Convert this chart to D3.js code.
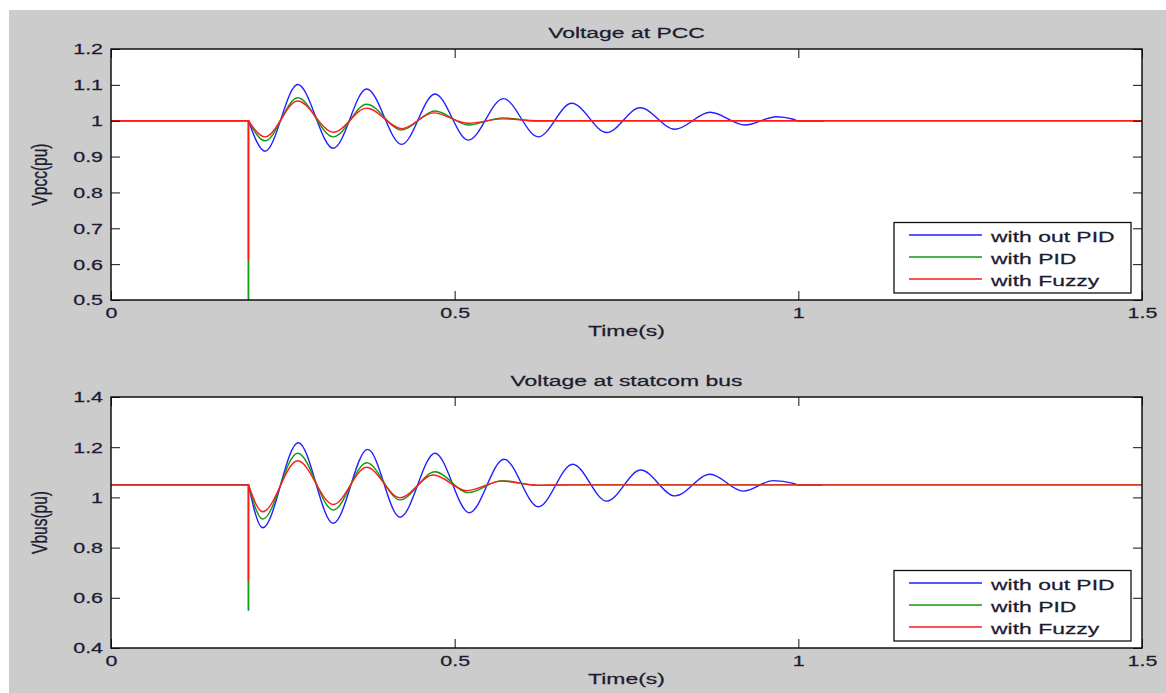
<!DOCTYPE html>
<html><head><meta charset="utf-8">
<script src="https://cdn.jsdelivr.net/npm/d3@7"></script>
<style>
body{margin:0;background:#fff;}
svg{display:block;}
text{font-family:"Liberation Sans",Arial,sans-serif;fill:#1c1c30;stroke:#1c1c30;stroke-width:0.25;}
</style>
</head><body><svg id="c" width="1166" height="693"></svg>
<script>
// ---------------- data ----------------
const timeTicks = [0, 0.5, 1, 1.5];
const timeTickLabels = ["0", "0.5", "1", "1.5"];
const pccTicks = [0.5, 0.6, 0.7, 0.8, 0.9, 1.0, 1.1, 1.2];
const pccTickLabels = ["0.5", "0.6", "0.7", "0.8", "0.9", "1", "1.1", "1.2"];
const busTicks = [0.4, 0.6, 0.8, 1.0, 1.2, 1.4];
const busTickLabels = ["0.4", "0.6", "0.8", "1", "1.2", "1.4"];
const seriesNames = ["with out PID", "with PID", "with Fuzzy"];

const faultTime = 0.2;
const pccPre = 1.0;
const busPre = 1.05;
// lowest value of the sag at the fault instant (blue, green, red)
const pccDip = [0.5, 0.5, 0.61];
const busDip = [0.549, 0.549, 0.664];

// Voltage at PCC after the fault (extrema)
const pccBlueT = [0.2, 0.2241, 0.2716, 0.3234, 0.372, 0.4229, 0.4714, 0.5198, 0.5708, 0.6217, 0.6703, 0.7212, 0.7697, 0.8206, 0.8715, 0.9224, 0.9685, 0.9927, 1.001, 1.0374];
const pccBlueV = [1.0, 0.915, 1.101, 0.923, 1.0885, 0.934, 1.0745, 0.946, 1.0615, 0.955, 1.0486, 0.967, 1.036, 0.976, 1.0235, 0.988, 1.011, 1.004, 0.999, 0.999];
const pccGreenT = [0.2, 0.2241, 0.2716, 0.3234, 0.372, 0.4229, 0.4714, 0.5198, 0.5696, 0.62, 0.67, 1.5];
const pccGreenV = [1.0, 0.944, 1.064, 0.955, 1.046, 0.974, 1.027, 0.988, 1.008, 0.999, 1.0, 1.0];
const pccRedT = [0.2, 0.2241, 0.2716, 0.3234, 0.372, 0.4229, 0.469, 0.5198, 0.5696, 0.62, 0.67, 1.5];
const pccRedV = [1.0, 0.955, 1.055, 0.968, 1.035, 0.978, 1.022, 0.993, 1.005, 1.0, 1.0, 1.0];

// Voltage at statcom bus after the fault
const busBlueT = [0.2, 0.2207, 0.2725, 0.3234, 0.3735, 0.4205, 0.4714, 0.5213, 0.5718, 0.6217, 0.6717, 0.7212, 0.7707, 0.8206, 0.8715, 0.9199, 0.9636, 0.9927, 1.001, 1.0345];
const busBlueV = [1.05, 0.879, 1.218, 0.897, 1.1915, 0.921, 1.176, 0.939, 1.152, 0.963, 1.132, 0.985, 1.109, 1.006, 1.092, 1.025, 1.067, 1.056, 1.049, 1.049];
const busGreenT = [0.2, 0.2207, 0.2716, 0.3234, 0.372, 0.4205, 0.4714, 0.5198, 0.5684, 0.62, 0.67, 1.5];
const busGreenV = [1.05, 0.914, 1.176, 0.95, 1.138, 0.99, 1.102, 1.019, 1.067, 1.048, 1.05, 1.05];
const busRedT = [0.2, 0.2207, 0.2716, 0.3234, 0.372, 0.4205, 0.469, 0.5175, 0.5684, 0.62, 0.67, 1.5];
const busRedV = [1.05, 0.943, 1.146, 0.972, 1.12, 0.999, 1.089, 1.027, 1.065, 1.049, 1.05, 1.05];

// ---------------- styles / layout ----------------
const colors = ["#1f1fff", "#119911", "#ff1a1a"];
const SX = 1.48;           // horizontal stretch of the text in the picture
const W = 1166, H = 693;
const xLeft = 111, xRight = 1142;

const svg = d3.select("#c");
svg.append("rect").attr("x", 9).attr("y", 10).attr("width", W - 9).attr("height", H - 10).attr("fill", "#cccccc");

function stretchedText(g, txt, x, y, size, anchor, rotate) {
  return g.append("text")
    .attr("transform", `translate(${x},${y}) scale(${SX},1)` + (rotate ? " rotate(-90)" : ""))
    .attr("text-anchor", anchor)
    .attr("font-size", size)
    .text(txt);
}

function panel(cfg, idx) {
  const g = svg.append("g");
  const x = d3.scaleLinear().domain([0, 1.5]).range([xLeft, xRight]);
  const y = d3.scaleLinear().domain(cfg.domain).range([cfg.bottom, cfg.top]);

  g.append("rect").attr("x", xLeft).attr("y", cfg.top)
    .attr("width", xRight - xLeft).attr("height", cfg.bottom - cfg.top).attr("fill", "#fff");

  const clipId = "clip" + idx;
  svg.append("clipPath").attr("id", clipId).append("rect")
    .attr("x", xLeft).attr("y", cfg.top).attr("width", xRight - xLeft).attr("height", cfg.bottom - cfg.top);

  const lines = g.append("g").attr("clip-path", `url(#${clipId})`);
  const linear = d3.line().x(d => x(d[0])).y(d => y(d[1]));
  const smooth = d3.line().x(d => x(d[0])).y(d => y(d[1])).curve(d3.curveMonotoneX);

  cfg.series.forEach((s, i) => {
    const pre = [[0, cfg.pre], [faultTime, cfg.pre], [faultTime, cfg.dip[i]], [faultTime, s.v[0]]];
    const post = s.t.map((t, k) => [t, s.v[k]]);
    lines.append("path").attr("d", linear(pre)).attr("fill", "none")
      .attr("stroke", colors[i]).attr("stroke-width", 1.4);
    lines.append("path").attr("d", smooth(post)).attr("fill", "none")
      .attr("stroke", colors[i]).attr("stroke-width", 1.4);
  });

  // axes
  const left = g.append("g").attr("transform", `translate(${xLeft},0)`)
    .call(d3.axisLeft(y).tickValues(cfg.ticks).tickFormat((d, i) => cfg.tickLabels[i])
      .tickSizeInner(-9).tickSizeOuter(0).tickPadding(0));
  const bottom = g.append("g").attr("transform", `translate(0,${cfg.bottom})`)
    .call(d3.axisBottom(x).tickValues(timeTicks).tickFormat((d, i) => timeTickLabels[i])
      .tickSizeInner(-9).tickSizeOuter(0).tickPadding(0));
  const right = g.append("g").attr("transform", `translate(${xRight},0)`)
    .call(d3.axisRight(y).tickValues(cfg.ticks).tickFormat("").tickSizeInner(-9).tickSizeOuter(0));
  const top = g.append("g").attr("transform", `translate(0,${cfg.top})`)
    .call(d3.axisTop(x).tickValues(timeTicks).tickFormat("").tickSizeInner(-9).tickSizeOuter(0));
  [left, bottom, right, top].forEach(a => {
    a.select(".domain").remove();
    a.selectAll("line").attr("stroke", "#111").attr("stroke-width", 1);
    a.attr("font-family", null).attr("font-size", null);
  });
  left.selectAll("text").attr("x", -8 / SX).attr("dy", "0.34em")
    .attr("transform", `scale(${SX},1)`).attr("font-size", 14.5).attr("fill", "#1c1c30");
  bottom.selectAll("text").attr("y", 18).attr("dy", 0)
    .attr("transform", `scale(${SX},1)`).attr("font-size", 14.5).attr("fill", "#1c1c30");

  g.append("rect").attr("x", xLeft).attr("y", cfg.top)
    .attr("width", xRight - xLeft).attr("height", cfg.bottom - cfg.top)
    .attr("fill", "none").attr("stroke", "#111").attr("stroke-width", 1.5);

  // titles
  const cx = (xLeft + xRight) / 2;
  stretchedText(g, cfg.title, cx, cfg.top - 11, 15.5, "middle");
  stretchedText(g, "Time(s)", cx, cfg.bottom + 36, 15.5, "middle");
  stretchedText(g, cfg.ylabel, 47, (cfg.top + cfg.bottom) / 2, 15.5, "middle", true);

  // legend
  const lg = g.append("g");
  const lx1 = xRight - 11, lx0 = lx1 - 237, ly1 = cfg.bottom - 7, ly0 = ly1 - 70.5;
  lg.append("rect").attr("x", lx0).attr("y", ly0).attr("width", lx1 - lx0).attr("height", ly1 - ly0)
    .attr("fill", "#fff").attr("stroke", "#111").attr("stroke-width", 1.3);
  seriesNames.forEach((n, i) => {
    const yy = ly0 + 12.5 + i * 22;
    lg.append("line").attr("x1", lx0 + 15).attr("x2", lx0 + 88).attr("y1", yy).attr("y2", yy)
      .attr("stroke", colors[i]).attr("stroke-width", 1.3);
    stretchedText(lg, n, lx0 + 97, yy + 6.5, 15.5, "start");
  });
}

panel({
  top: 49, bottom: 300, domain: [0.5, 1.2], ticks: pccTicks, tickLabels: pccTickLabels,
  pre: pccPre, dip: pccDip, title: "Voltage at PCC", ylabel: "Vpcc(pu)",
  series: [{t: pccBlueT, v: pccBlueV}, {t: pccGreenT, v: pccGreenV}, {t: pccRedT, v: pccRedV}]
}, 0);
panel({
  top: 397, bottom: 648, domain: [0.4, 1.4], ticks: busTicks, tickLabels: busTickLabels,
  pre: busPre, dip: busDip, title: "Voltage at statcom bus", ylabel: "Vbus(pu)",
  series: [{t: busBlueT, v: busBlueV}, {t: busGreenT, v: busGreenV}, {t: busRedT, v: busRedV}]
}, 1);
</script>
</body></html>
